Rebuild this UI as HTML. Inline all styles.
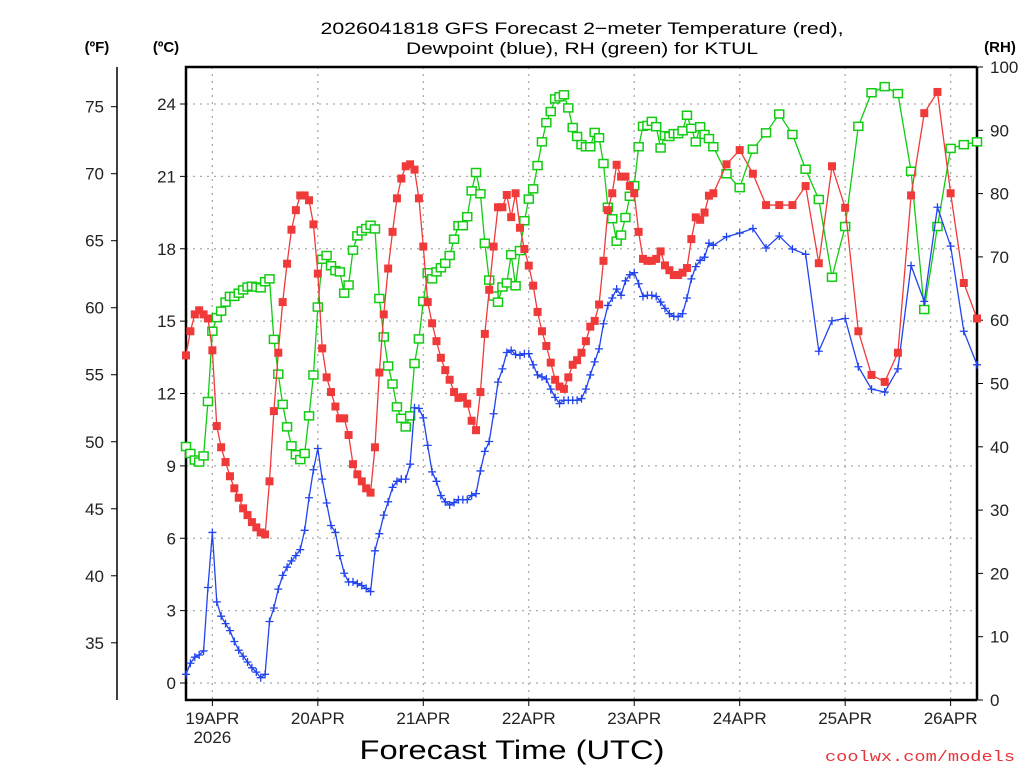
<!DOCTYPE html>
<html><head><meta charset="utf-8"><style>
html,body{margin:0;padding:0;background:#fff;width:1024px;height:768px;overflow:hidden}
svg{display:block;font-family:"Liberation Sans",sans-serif}
</style></head><body>
<svg id="chart" width="1024" height="768" viewBox="0 0 1024 768" xmlns="http://www.w3.org/2000/svg">
<text x="582" y="34" text-anchor="middle" font-size="17" textLength="523" lengthAdjust="spacingAndGlyphs">2026041818 GFS Forecast 2−meter Temperature (red),</text>
<text x="582" y="54" text-anchor="middle" font-size="17" textLength="352" lengthAdjust="spacingAndGlyphs">Dewpoint (blue), RH (green) for KTUL</text>
<text x="97" y="52" text-anchor="middle" font-size="15" font-weight="bold">(ºF)</text>
<text x="166" y="52" text-anchor="middle" font-size="15" font-weight="bold">(ºC)</text>
<text x="1000" y="52" text-anchor="middle" font-size="15" font-weight="bold">(RH)</text>
<text x="512" y="759" text-anchor="middle" font-size="27" textLength="305" lengthAdjust="spacingAndGlyphs">Forecast Time (UTC)</text>
<text x="1015" y="761" text-anchor="end" font-size="15" fill="#e8343a" font-family="Liberation Mono, monospace" textLength="190" lengthAdjust="spacingAndGlyphs">coolwx.com/models</text>
<g id="grid"></g>
<g id="axes"></g>
<g id="series"></g>
</svg>
<script>
// hourly 0..120, then every 3h to 180
const tempHours=[];for(let h=0;h<=120;h++)tempHours.push(h);for(let h=123;h<=180;h+=3)tempHours.push(h);
const temperatureC=[13.58,14.58,15.28,15.45,15.28,15.11,13.79,10.65,9.77,9.16,8.57,8.07,7.68,7.24,6.96,6.67,6.45,6.24,6.16,8.36,11.27,13.69,15.79,17.38,18.79,19.60,20.21,20.21,20.01,19.01,16.97,13.87,12.67,12.06,11.46,10.97,10.97,10.28,9.07,8.65,8.36,8.07,7.89,9.77,12.87,15.28,17.18,18.70,20.09,20.91,21.42,21.50,21.28,20.09,18.09,15.79,14.91,14.17,13.48,12.97,12.57,12.06,11.82,11.85,11.58,10.87,10.48,12.06,14.47,16.30,18.09,19.72,19.72,20.23,19.31,20.30,18.87,17.99,17.30,16.47,15.38,14.58,13.97,13.28,12.57,12.29,12.19,12.67,13.19,13.38,13.69,14.17,14.77,15.01,15.69,17.50,19.60,20.30,21.48,20.99,20.99,20.60,20.30,18.70,17.58,17.50,17.50,17.58,17.89,17.31,17.11,16.91,16.91,17.01,17.20,18.40,19.30,19.20,19.50,20.20,20.30,
21.50,22.09,21.11,19.81,19.81,19.81,20.60,17.40,21.42,19.70,14.58,12.77,12.48,13.69,20.21,23.62,24.50,20.30,16.58,15.11];
const dewpointC=[0.36,0.82,1.07,1.16,1.33,3.96,6.24,3.36,2.77,2.46,2.17,1.72,1.36,1.11,0.87,0.63,0.45,0.22,0.36,2.55,3.11,3.89,4.46,4.80,5.06,5.28,5.53,6.33,7.68,8.84,9.72,8.45,7.46,6.53,6.24,5.28,4.55,4.19,4.19,4.12,4.04,3.92,3.79,5.48,6.19,6.96,7.51,8.11,8.36,8.45,8.45,9.07,11.41,11.38,10.99,9.85,8.75,8.36,7.77,7.51,7.38,7.48,7.60,7.60,7.60,7.77,7.85,8.79,9.60,10.01,11.16,12.47,13.02,13.70,13.79,13.62,13.58,13.65,13.65,13.19,12.77,12.69,12.60,12.18,11.84,11.58,11.72,11.72,11.72,11.72,11.79,12.18,12.77,13.31,13.85,14.89,15.65,15.96,16.33,16.07,16.67,16.92,17.01,16.55,16.02,16.07,16.07,16.02,15.79,15.53,15.31,15.20,15.18,15.31,15.96,16.75,17.26,17.52,17.65,18.23,18.14,
18.50,18.65,18.84,18.03,18.53,17.99,17.77,13.75,15.01,15.11,13.11,12.18,12.06,13.02,17.30,15.82,19.72,18.11,14.58,13.19];
const relHumidity=[40.04,38.95,37.91,37.59,38.56,47.15,58.26,60.40,61.43,62.85,63.76,63.76,64.27,64.79,65.24,65.37,65.24,65.11,66.08,66.53,56.97,51.48,46.70,43.15,40.17,38.75,37.98,38.95,44.89,51.35,62.08,69.63,70.22,68.60,67.83,67.63,64.27,65.56,71.06,73.32,74.09,74.48,75.00,74.42,63.43,57.36,52.77,49.93,46.31,44.50,43.14,44.89,53.16,57.04,62.98,67.50,66.53,67.63,68.28,68.99,70.22,72.80,74.93,74.93,76.35,80.43,83.33,79.97,72.16,66.34,63.82,62.85,65.24,65.89,70.35,65.44,71.00,75.71,79.13,80.75,84.43,88.18,91.21,92.96,94.96,95.29,95.61,93.54,90.44,89.02,87.73,87.40,87.40,89.66,88.82,84.75,77.84,76.03,72.48,73.45,76.22,79.58,81.26,87.40,90.63,90.76,91.41,90.57,87.21,89.15,89.02,89.47,89.47,89.92,92.38,90.31,88.18,90.57,89.34,88.69,87.40,
83.14,80.94,87.02,89.60,92.57,89.34,83.85,79.07,66.79,74.80,90.63,95.93,96.90,95.80,83.53,61.69,74.80,87.14,87.73,88.18];
const celsiusTicks=[0,3,6,9,12,15,18,21,24];
const fahrenheitTicks=[35,40,45,50,55,60,65,70,75];
const rhTicks=[0,10,20,30,40,50,60,70,80,90,100];
const dayLabels=["19APR","20APR","21APR","22APR","23APR","24APR","25APR","26APR"];
const dayHours=[6,30,54,78,102,126,150,174];

const NS="http://www.w3.org/2000/svg";
const L=186,R=977,T=67,B=700;
const xs=h=>L+h*(R-L)/180;
const yc=c=>683-c*24.125;
const yr=v=>B-v*(B-T)/100;
const yf=f=>yc((f-32)*5/9);
function mk(tag,attrs,parent){const e=document.createElementNS(NS,tag);for(const k in attrs)e.setAttribute(k,attrs[k]);parent.appendChild(e);return e;}
const grid=document.getElementById('grid'),axes=document.getElementById('axes'),series=document.getElementById('series');
celsiusTicks.forEach(c=>{
  const g=mk('line',{x1:L,x2:R,y1:yc(c),y2:yc(c),stroke:'#aaa','stroke-width':1.3,'stroke-dasharray':'2,5'},grid);
  
  
  mk('line',{x1:L-6,x2:L,y1:yc(c),y2:yc(c),stroke:'#000','stroke-width':1},axes);
  const t=mk('text',{x:L-10,y:yc(c)+6,'text-anchor':'end','font-size':17,fill:'#222'},axes);t.textContent=c;
  
  
});
fahrenheitTicks.forEach(f=>{
  mk('line',{x1:111,x2:117,y1:yf(f),y2:yf(f),stroke:'#000','stroke-width':1},axes);
  const t=mk('text',{x:104,y:yf(f)+6,'text-anchor':'end','font-size':17,fill:'#222'},axes);t.textContent=f;
  
  
});
rhTicks.forEach(v=>{
  mk('line',{x1:R,x2:R+6,y1:yr(v),y2:yr(v),stroke:'#000','stroke-width':1},axes);
  const t=mk('text',{x:990,y:yr(v)+6,'font-size':17,fill:'#222'},axes);t.textContent=v;
  
  
});
dayHours.forEach((h,i)=>{
  const g=mk('line',{x1:xs(h),x2:xs(h),y1:T,y2:B,stroke:'#aaa','stroke-width':1.3,'stroke-dasharray':'2,5'},grid);
  
  
  mk('line',{x1:xs(h),x2:xs(h),y1:B,y2:B+6,stroke:'#000','stroke-width':1},axes);
  const t=mk('text',{x:xs(h),y:724,'text-anchor':'middle','font-size':17,fill:'#222'},axes);t.textContent=dayLabels[i];
  
  
});
const yr2=mk('text',{x:xs(dayHours[0]),y:743,'text-anchor':'middle','font-size':17,fill:'#222'},axes);yr2.textContent="2026";


const fr=mk('path',{d:`M${R},${T} L${L},${T} L${L},${B} L${R},${B}`,fill:'none',stroke:'#000','stroke-width':2.5},axes);


const ra=mk('line',{x1:R,x2:R,y1:T,y2:B,stroke:'#000','stroke-width':2.5},axes);


const fa=mk('line',{x1:117,x2:117,y1:T,y2:B,stroke:'#000','stroke-width':1.5},axes);



function drawSeries(vals,yfn,color,kind,name){
  const g=mk('g',{},series);
  
  
  const pts=vals.map((v,i)=>[xs(tempHours[i]),yfn(v)]);
  const ln=mk('polyline',{points:pts.map(p=>p.join(',')).join(' '),fill:'none',stroke:color,'stroke-width':1.3},g);
  
  
  pts.forEach(p=>{
    let m;
    if(kind==='fill'){m=mk('rect',{x:p[0]-4,y:p[1]-4,width:8,height:8,fill:color},g);}
    else if(kind==='open'){m=mk('rect',{x:p[0]-4.5,y:p[1]-4,width:9,height:8,fill:'#fff',stroke:color,'stroke-width':1.5},g);}
    else {m=mk('path',{d:`M${p[0]-4},${p[1]}h8M${p[0]},${p[1]-4}v8`,stroke:color,'stroke-width':1.3},g);}
    
    
  });
}
drawSeries(relHumidity,yr,'#11cc11','open','rh-series');
drawSeries(dewpointC,yc,'#2244ee','plus','dewpoint-series');
drawSeries(temperatureC,yc,'#f03a3a','fill','temperature-series');
</script>
</body></html>
